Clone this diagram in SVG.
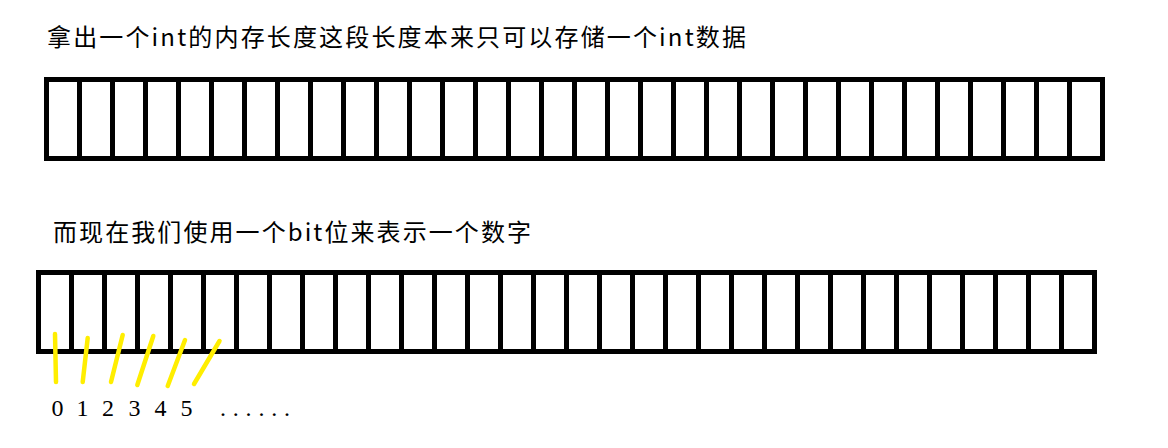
<svg xmlns="http://www.w3.org/2000/svg" width="1168" height="448" viewBox="0 0 1168 448">
<style>
.cap{font-family:"Noto Sans CJK SC","Noto Sans",sans-serif;font-size:24px;fill:#000}
.num{font-family:"Liberation Serif",serif;font-size:24px;fill:#000;text-anchor:middle}
.bar{fill:#fff;stroke:#000;stroke-width:5}
.div{fill:none;stroke:#000;stroke-width:5}
.mark{fill:none;stroke:#ffee00;stroke-width:4.5;stroke-linecap:round}
</style>
<rect width="1168" height="448" fill="#fff"/>
<text class="cap" x="47" y="46" textLength="699" lengthAdjust="spacing">拿出一个int的内存长度这段长度本来只可以存储一个int数据</text>
<g id="int-bar">
<rect class="bar" x="46.5" y="79.5" width="1056" height="79"/>
<path class="div" d="M79.5 79.5V158.5M112.5 79.5V158.5M145.5 79.5V158.5M178.5 79.5V158.5M211.5 79.5V158.5M244.5 79.5V158.5M277.5 79.5V158.5M310.5 79.5V158.5M343.5 79.5V158.5M376.5 79.5V158.5M409.5 79.5V158.5M442.5 79.5V158.5M475.5 79.5V158.5M508.5 79.5V158.5M541.5 79.5V158.5M574.5 79.5V158.5M607.5 79.5V158.5M640.5 79.5V158.5M673.5 79.5V158.5M706.5 79.5V158.5M739.5 79.5V158.5M772.5 79.5V158.5M805.5 79.5V158.5M838.5 79.5V158.5M871.5 79.5V158.5M904.5 79.5V158.5M937.5 79.5V158.5M970.5 79.5V158.5M1003.5 79.5V158.5M1036.5 79.5V158.5M1069.5 79.5V158.5"/>
</g>
<text class="cap" x="53" y="241" textLength="478" lengthAdjust="spacing">而现在我们使用一个bit位来表示一个数字</text>
<g id="bit-bar">
<rect class="bar" x="38.5" y="272.5" width="1056" height="79"/>
<path class="div" d="M71.5 272.5V351.5M104.5 272.5V351.5M137.5 272.5V351.5M170.5 272.5V351.5M203.5 272.5V351.5M236.5 272.5V351.5M269.5 272.5V351.5M302.5 272.5V351.5M335.5 272.5V351.5M368.5 272.5V351.5M401.5 272.5V351.5M434.5 272.5V351.5M467.5 272.5V351.5M500.5 272.5V351.5M533.5 272.5V351.5M566.5 272.5V351.5M599.5 272.5V351.5M632.5 272.5V351.5M665.5 272.5V351.5M698.5 272.5V351.5M731.5 272.5V351.5M764.5 272.5V351.5M797.5 272.5V351.5M830.5 272.5V351.5M863.5 272.5V351.5M896.5 272.5V351.5M929.5 272.5V351.5M962.5 272.5V351.5M995.5 272.5V351.5M1028.5 272.5V351.5M1061.5 272.5V351.5"/>
</g>
<g id="markers">
<path class="mark" d="M55 334L56 382"/>
<path class="mark" d="M87.7 338L82.7 382"/>
<path class="mark" d="M122.7 335L111 382"/>
<path class="mark" d="M153.3 336L137.3 385"/>
<path class="mark" d="M185 340L167.7 386"/>
<path class="mark" d="M219.5 341L194 384"/>
</g>
<g id="indices">
<text class="num" x="57.5" y="415.5">0</text>
<text class="num" x="82.5" y="415.5">1</text>
<text class="num" x="108" y="415.5">2</text>
<text class="num" x="134.5" y="415.5">3</text>
<text class="num" x="160.5" y="415.5">4</text>
<text class="num" x="186.5" y="415.5">5</text>
<text class="num" x="223 235.8 248.6 261.4 274.2 287" y="415.5">......</text>
</g>
</svg>
